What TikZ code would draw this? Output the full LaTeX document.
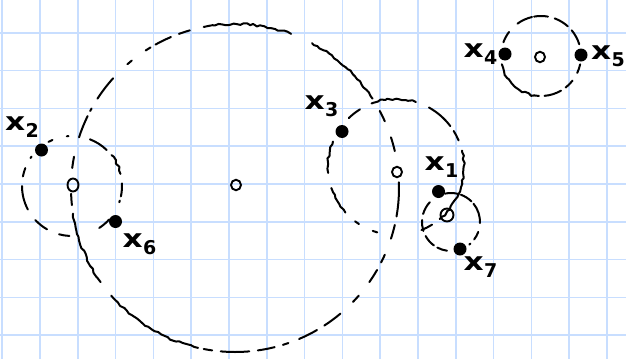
\documentclass[tikz,border=0pt]{standalone}
\usepackage{fontspec}
\newfontfamily\handfont{DejaVu Sans}
\usetikzlibrary{decorations.pathmorphing,shapes.geometric}
\definecolor{gridblue}{RGB}{200,222,255}
\newcommand\xsub[1]{\scalebox{1.3}[1.05]{x}\kern0.5pt\raisebox{-7pt}{\fontsize{19}{19}\selectfont #1}}
\tikzset{
  gridline/.style={draw=gridblue, line width=1.6pt},
  sk/.style={draw=black, line width=2pt, line cap=round, line join=round},
  wavy/.style={sk, decorate, decoration={random steps, segment length=3.5pt, amplitude=1pt}},
  dot/.style={circle, fill=black, inner sep=0pt, minimum size=13pt},
  ctr/.style={ellipse, draw=black, line width=1.9pt, inner sep=0pt, minimum width=10pt, minimum height=10.5pt},
  lbl/.style={font=\handfont\bfseries\fontsize{24}{24}\selectfont, inner sep=0pt}
}
\pgfmathsetseed{7}
\begin{document}
\begin{tikzpicture}[x=1pt,y=-1pt]
\useasboundingbox (0,0) rectangle (626,359);
\fill[white] (0,0) rectangle (626,359);
% grid paper
\foreach \i in {0,...,16} \draw[gridline] ({2.2+37.8*\i},0) -- ++(0,359);
\foreach \j in {0,...,10} \draw[gridline] (0,{-5.1+37.8*\j}) -- ++(626,0);

% circle centres
\coordinate (B) at (235,188);
\coordinate (M) at (396,167);
\coordinate (L) at (72,186);
\coordinate (S) at (451,222);
\coordinate (T) at (541,56);

% big circle
\foreach \a/\b in {-10/2,13/18,24/28,106/110,113/119,121/123,129/131,138/147,151/152,154/162,169/173,182/186,259/262,265/275,278/284,287/289,293/300,303/310,316/319,325/330,333/336,342/347}
  \draw[sk] (B) ++(\a:164pt) arc[start angle=\a, end angle=\b, radius=164pt];
\foreach \a/\b in {33/62,70/101,189/215,221/257}
  \draw[wavy] (B) ++(\a:164pt) arc[start angle=\a, end angle=\b, radius=164pt];

% middle circle
\foreach \a/\b in {23/32,37/61,122/134,233/237,250/254,292/302}
  \draw[sk] (M) ++(\a:68pt) arc[start angle=\a, end angle=\b, radius=68pt];
\foreach \a/\b in {73/111,158/185,198/222,-50/14}
  \draw[wavy] (M) ++(\a:68pt) arc[start angle=\a, end angle=\b, radius=68pt];

% left circle
\foreach \a/\b in {46/69,94/96,113/118,144/146,159/169,180/208,223/240,255/267,303/318,341/343,348/363}
  \draw[sk] (L) ++(\a:50pt) arc[start angle=\a, end angle=\b, radius=50pt];
\draw[wavy] (L) ++(14:50pt) arc[start angle=14, end angle=38, radius=50pt];

% small lower-right circle
\foreach \a/\b in {-2/39,45/70,75/102,137/164,176/198,209/234,242/262,309/312,323/340}
  \draw[sk] (S) ++(\a:29pt) arc[start angle=\a, end angle=\b, radius=29pt];

% top-right circle
\foreach \a/\b in {17/40,48/70,80/100,103/126,143/160,260/267,275/300,308/322,335/348}
  \draw[sk] (T) ++(\a:40pt) arc[start angle=\a, end angle=\b, radius=40pt];
\draw[wavy] (T) ++(192:40pt) arc[start angle=192, end angle=260, radius=40pt];

% centre marks
\node[ctr] (cB) at (236,185) {};
\node[ctr] (cM) at (397,172) {};
\node[ctr, minimum width=11pt, minimum height=13pt] (cL) at (73,185) {};
\node[ctr, minimum width=13pt, minimum height=13pt] (cS) at (447,215) {};
\node[ctr] (cT) at (540,57) {};

% points
\node[dot] (p1) at (438.5,191.5) {};
\node[dot] (p2) at (41.5,150) {};
\node[dot] (p3) at (342,131.5) {};
\node[dot] (p4) at (505,54) {};
\node[dot] (p5) at (581,55) {};
\node[dot] (p6) at (115.5,221.5) {};
\node[dot] (p7) at (460,249) {};

% labels
\node[lbl] (l1) at (441.5,167.5) {\xsub{1}};
\node[lbl] (l2) at (22,127.5) {\xsub{2}};
\node[lbl] (l3) at (321.5,106.5) {\xsub{3}};
\node[lbl] (l4) at (480.5,54.5) {\xsub{4}};
\node[lbl] (l5) at (608,56) {\xsub{5}};
\node[lbl] (l6) at (139.5,244.5) {\xsub{6}};
\node[lbl] (l7) at (480.5,267.5) {\xsub{7}};
\end{tikzpicture}
\end{document}
